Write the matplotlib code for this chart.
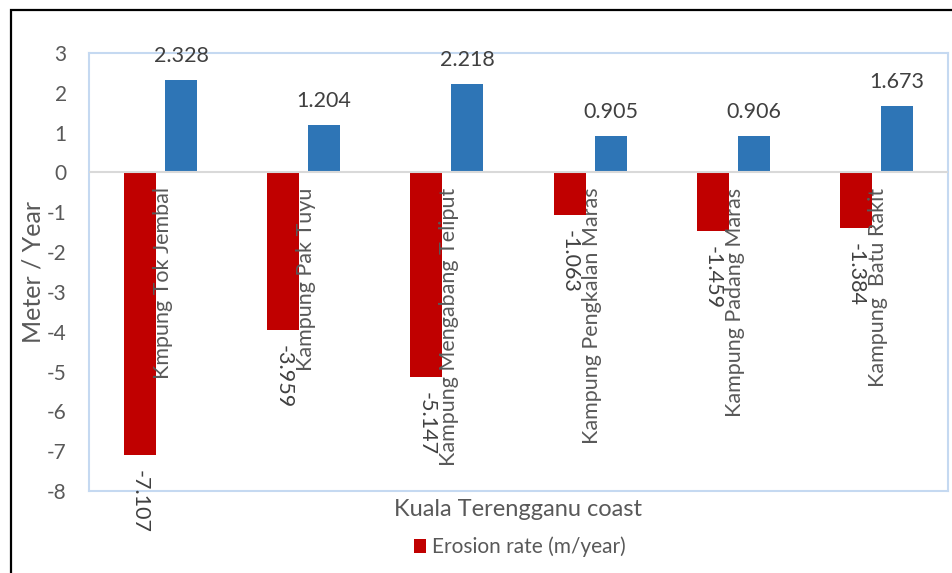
import numpy as np
import matplotlib.pyplot as plt
from matplotlib.patches import Rectangle

plt.rcParams['font.family'] = ['Lato', 'DejaVu Sans']
plt.rcParams['axes.unicode_minus'] = False

sites = ['Kmpung Tok Jembal', 'Kampung Pak Tuyu', 'Kampung Mengabang Teliput',
         'Kampung Pengkalan Maras', 'Kampung Padang Maras', 'Kampung  Batu Rakit']
erosion = [-7.107, -3.959, -5.147, -1.063, -1.459, -1.384]
accretion = [2.328, 1.204, 2.218, 0.905, 0.906, 1.673]

red = '#C00000'
blue = '#2E75B6'
txt = '#595959'

fig = plt.figure(figsize=(9.52, 5.73), dpi=100)
ax = fig.add_axes([89 / 952, 1 - 491 / 573, (948 - 89) / 952, (491 - 53) / 573])

x = np.arange(len(sites))
w = 0.224
off = 0.143
ax.bar(x - off, erosion, w, color=red, label='Erosion rate (m/year)', zorder=2)
ax.bar(x + off, accretion, w, color=blue, zorder=2)

ax.set_xlim(-0.5, len(sites) - 0.5)
ax.set_ylim(-8, 3)
ax.set_yticks(range(-8, 4))
ax.set_xticks([])
ax.tick_params(axis='y', length=0, pad=16, labelsize=15, labelcolor=txt)
ax.axhline(0, color='#d9d9d9', lw=1.5, zorder=3)
for s in ax.spines.values():
    s.set_color('#c5d9f1')
    s.set_linewidth(1.5)

# value labels
for xi, v in zip(x, accretion):
    ax.annotate(f'{v:.3f}', (xi + off, v), xytext=(0, 14), textcoords='offset pixels',
                ha='center', va='bottom', fontsize=15.5, color='#404040')
for xi, v in zip(x, erosion):
    ax.annotate(f'{v:.3f}', (xi - off, v), xytext=(0, -15), textcoords='offset pixels',
                ha='center', va='top', rotation=-90, fontsize=15.5, color='#404040',
                annotation_clip=False)

# site names inside the plot
for xi, name in zip(x, sites):
    ax.annotate(name, (xi, 0), xytext=(2, -15), textcoords='offset pixels',
                ha='center', va='top', rotation=90, fontsize=15.5, color=txt, zorder=4)

ax.set_ylabel('Meter / Year', fontsize=18, color=txt, labelpad=2)
ax.set_xlabel('Kuala Terengganu coast', fontsize=17, color=txt, labelpad=6)

ax.legend(loc='center', bbox_to_anchor=(520 / 952, 1 - 547 / 573), bbox_transform=fig.transFigure,
          frameon=False, fontsize=15, labelcolor=txt, handlelength=0.6, handleheight=0.6,
          handletextpad=0.3, borderpad=0)

fig.patches.append(Rectangle((11 / 952, -0.1), 1.2, 1 - 10 / 573 + 0.1, transform=fig.transFigure,
                             fill=False, edgecolor='black', lw=1.6))

fig.savefig('out.png', dpi=100)
